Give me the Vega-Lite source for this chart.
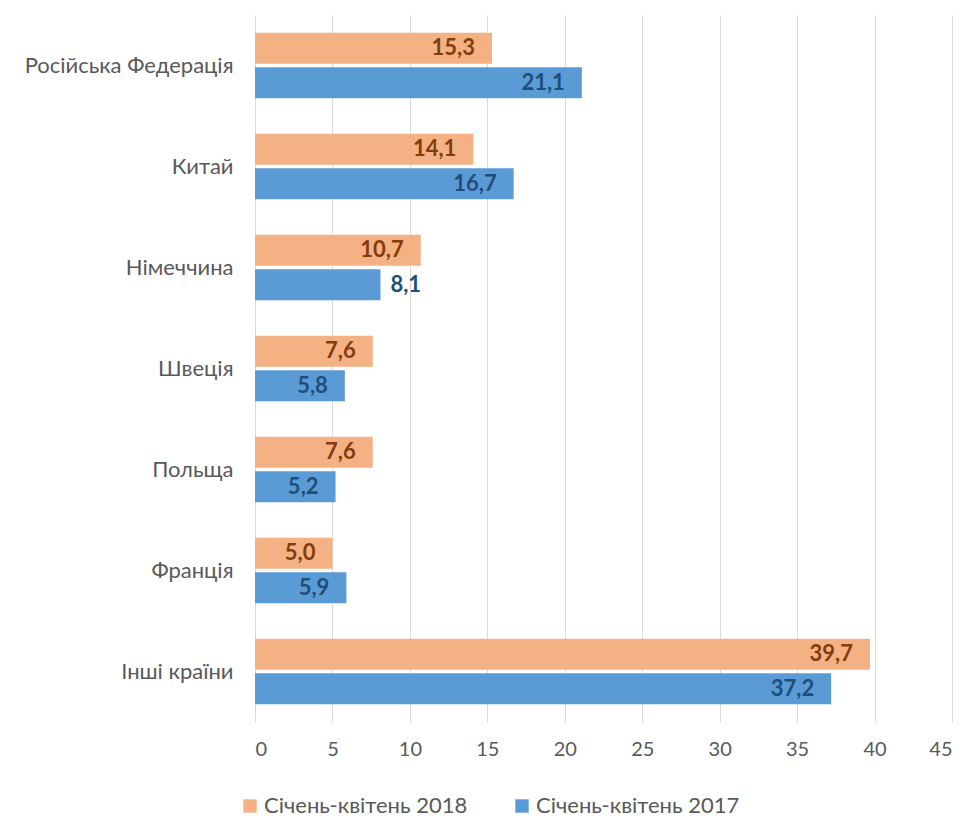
{
  "$schema": "https://vega.github.io/schema/vega-lite/v6.json",
  "autosize": {"type": "none"},
  "width": 697,
  "height": 707,
  "padding": {"left": 255, "top": 15, "right": 16, "bottom": 96},
  "config": {
    "font": "Lato",
    "view": {"stroke": null},
    "locale": {"number": {"decimal": ",", "thousands": " ", "grouping": [3], "currency": ["", ""]}}
  },
  "data": {
    "values": [
      {"country": "Російська Федерація", "series": "Січень-квітень 2018", "value": 15.3},
      {"country": "Російська Федерація", "series": "Січень-квітень 2017", "value": 21.1},
      {"country": "Китай", "series": "Січень-квітень 2018", "value": 14.1},
      {"country": "Китай", "series": "Січень-квітень 2017", "value": 16.7},
      {"country": "Німеччина", "series": "Січень-квітень 2018", "value": 10.7},
      {"country": "Німеччина", "series": "Січень-квітень 2017", "value": 8.1},
      {"country": "Швеція", "series": "Січень-квітень 2018", "value": 7.6},
      {"country": "Швеція", "series": "Січень-квітень 2017", "value": 5.8},
      {"country": "Польща", "series": "Січень-квітень 2018", "value": 7.6},
      {"country": "Польща", "series": "Січень-квітень 2017", "value": 5.2},
      {"country": "Франція", "series": "Січень-квітень 2018", "value": 5.0},
      {"country": "Франція", "series": "Січень-квітень 2017", "value": 5.9},
      {"country": "Інші країни", "series": "Січень-квітень 2018", "value": 39.7},
      {"country": "Інші країни", "series": "Січень-квітень 2017", "value": 37.2}
    ]
  },
  "encoding": {
    "y": {
      "field": "country",
      "type": "nominal",
      "sort": ["Російська Федерація", "Китай", "Німеччина", "Швеція", "Польща", "Франція", "Інші країни"],
      "scale": {"paddingInner": 0.35, "paddingOuter": 0.175},
      "axis": {"title": null, "ticks": false, "domain": false, "labelFontSize": 22, "labelColor": "#595959", "labelPadding": 22, "labelLimit": 300}
    },
    "yOffset": {
      "field": "series",
      "type": "nominal",
      "sort": ["Січень-квітень 2018", "Січень-квітень 2017"],
      "scale": {"paddingInner": 0.1}
    },
    "x": {
      "field": "value",
      "type": "quantitative",
      "scale": {"domain": [0, 45]},
      "axis": {"title": null, "values": [0, 5, 10, 15, 20, 25, 30, 35, 40, 45], "ticks": false, "domain": false, "grid": true, "gridColor": "#d9d9d9", "labelFontSize": 20, "labelColor": "#595959", "labelPadding": 17}
    }
  },
  "layer": [
    {
      "mark": {"type": "bar"},
      "encoding": {
        "color": {
          "field": "series",
          "type": "nominal",
          "scale": {"domain": ["Січень-квітень 2018", "Січень-квітень 2017"], "range": ["#F4B183", "#5B9BD5"]},
          "legend": {"orient": "none", "legendX": -16, "legendY": 780, "direction": "horizontal", "title": null, "symbolType": "square", "symbolSize": 180, "symbolStrokeWidth": 0, "labelFontSize": 22, "labelColor": "#595959", "labelLimit": 400, "columnPadding": 43, "labelOffset": 3}
        }
      }
    },
    {
      "transform": [{"filter": "!(datum.country == 'Німеччина' && datum.series == 'Січень-квітень 2017')"}],
      "mark": {"type": "text", "align": "right", "dx": -17, "fontWeight": "bold", "fontSize": 22},
      "encoding": {
        "text": {"field": "value", "type": "quantitative", "format": ".1f"},
        "color": {"condition": {"test": "datum.series == 'Січень-квітень 2018'", "value": "#843C0C"}, "value": "#1F4E79"}
      }
    },
    {
      "transform": [{"filter": "datum.country == 'Німеччина' && datum.series == 'Січень-квітень 2017'"}],
      "mark": {"type": "text", "align": "left", "dx": 10, "fontWeight": "bold", "fontSize": 22},
      "encoding": {
        "text": {"field": "value", "type": "quantitative", "format": ".1f"},
        "color": {"value": "#1F4E79"}
      }
    }
  ]
}
